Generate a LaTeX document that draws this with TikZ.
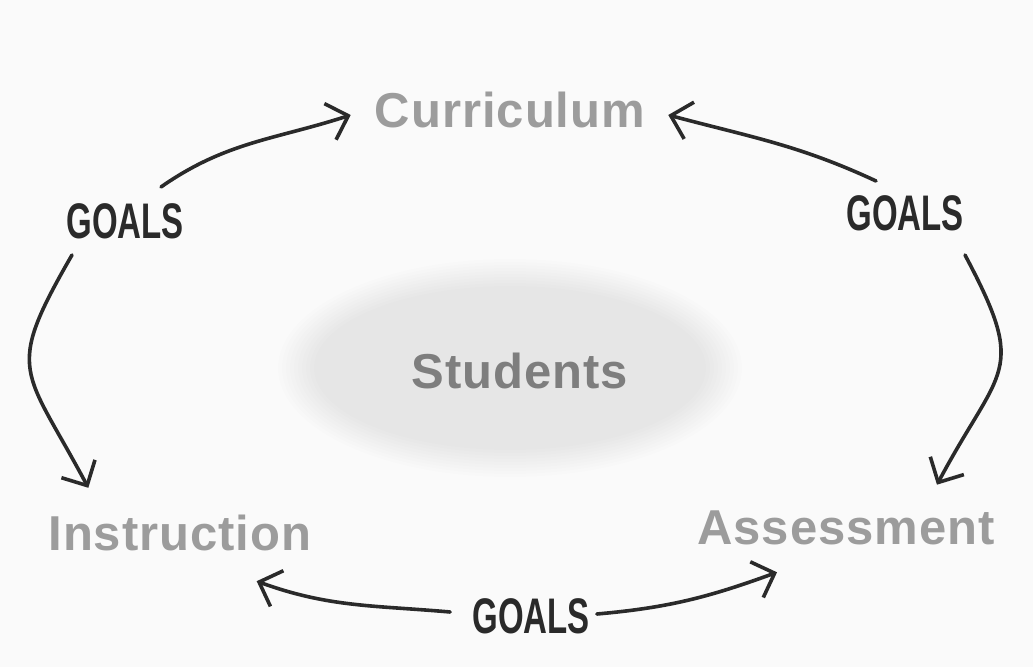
\documentclass[tikz,border=0pt]{standalone}
\usepackage{fontspec}
\setmainfont{Liberation Sans}
\newfontfamily\titlefont[LetterSpace=2]{Liberation Sans}
\newfontfamily\handfont[FakeStretch=0.66]{Liberation Sans}
\usetikzlibrary{arrows.meta}
\definecolor{paper}{HTML}{FAFAFA}
\definecolor{titlegray}{HTML}{9C9C9C}
\definecolor{centergray}{HTML}{7E7E7E}
\definecolor{ink}{HTML}{2A2A2A}
\begin{document}
\begin{tikzpicture}[x=1pt,y=1pt,
  title/.style={font=\titlefont\bfseries\fontsize{49}{49}\selectfont, text=titlegray, inner sep=0pt},
  hub/.style={font=\titlefont\bfseries\fontsize{49}{49}\selectfont, text=centergray, inner sep=0pt},
  goal/.style={font=\handfont\bfseries\fontsize{50}{50}\selectfont, text=ink, inner sep=0pt},
  arr/.style={draw=ink, line width=3.6pt, line cap=round,
    -{Straight Barb[length=19pt,width=38pt]}}]

% page
\fill[paper] (0,0) rectangle (1033,667);
\useasboundingbox (0,0) rectangle (1033,667);

% soft grey cloud behind the centre label
\foreach \k in {0,...,9}
  \fill[black, opacity=0.0075] (510,299) ellipse ({196+4*\k} and {82+3*\k});

% the four parts of the cycle
\node[title] (curr)   at (510,557) {Curriculum};
\node[title] (instr)  at (180,134) {Instruction};
\node[title] (assess) at (846,139) {Assessment};
\node[hub]   (stud)   at (520,296) {Students};

% goal labels
\node[goal] (goalsL) at (125,446) {GOALS};
\node[goal] (goalsR) at (905,454) {GOALS};
\node[goal] (goalsB) at (531,51)  {GOALS};

% arrows
\draw[arr] ([shift={(36,34)}]goalsL.center) to[out=35,in=198]
  ([shift={(-24,-5)}]curr.west);
\draw[arr] ([shift={(-53,-34)}]goalsL.center) to[out=240,in=118,looseness=1.5]
  ([shift={(40,27)}]instr.north west);
\draw[arr] ([shift={(-29,32)}]goalsR.center) to[out=155,in=-15]
  ([shift={(23,-5)}]curr.east);
\draw[arr] ([shift={(60,-42)}]goalsR.center) to[out=-62,in=62,looseness=1.5]
  ([shift={(-58,26)}]assess.north east);
\draw[arr] ([shift={(-22,4)}]goalsB.west) to[out=175,in=-20]
  ([shift={(-55,-30)}]instr.south east);
\draw[arr] ([shift={(7,2)}]goalsB.east) to[out=5,in=200]
  ([shift={(80,-27)}]assess.south west);
\end{tikzpicture}
\end{document}
